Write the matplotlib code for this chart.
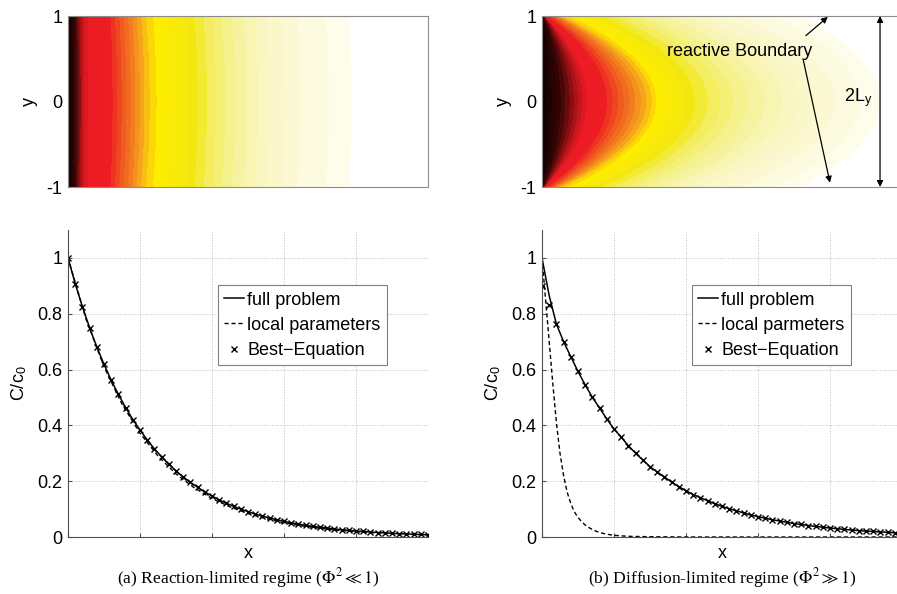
import numpy as np
import matplotlib.pyplot as plt
from matplotlib.colors import LinearSegmentedColormap

plt.rcParams['font.family'] = ['Liberation Sans', 'DejaVu Sans']
plt.rcParams['mathtext.fontset'] = 'stix'

# ---- bottom panels: concentration along the channel ----
x_grid = np.linspace(0, 1, 51)

# (a) reaction-limited
full_a = [1.000, 0.908, 0.825, 0.750, 0.681, 0.619, 0.562, 0.511, 0.464, 0.421,
          0.383, 0.348, 0.316, 0.287, 0.261, 0.237, 0.215, 0.196, 0.178, 0.161,
          0.147, 0.133, 0.121, 0.110, 0.100, 0.091, 0.082, 0.075, 0.068, 0.062,
          0.056, 0.051, 0.046, 0.042, 0.038, 0.035, 0.032, 0.029, 0.026, 0.024,
          0.021, 0.020, 0.018, 0.016, 0.015, 0.013, 0.012, 0.011, 0.010, 0.009,
          0.008]
best_a = full_a
local_a_x = np.linspace(0, 1, 21)
local_a = [1.000, 0.781, 0.610, 0.476, 0.372, 0.290, 0.226, 0.177, 0.138, 0.108,
           0.084, 0.066, 0.051, 0.040, 0.031, 0.024, 0.019, 0.015, 0.012, 0.009,
           0.007]

# (b) diffusion-limited
tail_b = [0.152, 0.141, 0.130, 0.119, 0.110, 0.101, 0.094, 0.086, 0.079, 0.073,
          0.067, 0.062, 0.057, 0.053, 0.048, 0.045, 0.041, 0.038, 0.035, 0.032,
          0.030, 0.027, 0.025, 0.023, 0.021, 0.020, 0.018, 0.017, 0.015, 0.014]
head_b = [0.763, 0.700, 0.646, 0.593, 0.545, 0.500, 0.462, 0.423, 0.387, 0.358,
          0.327, 0.300, 0.276, 0.252, 0.233, 0.215, 0.197, 0.180, 0.166]
full_b = [1.000, 0.865] + head_b + tail_b
best_b = [0.900, 0.830] + head_b + tail_b
local_b_x = [0, 0.01, 0.02, 0.03, 0.04, 0.05, 0.06, 0.07, 0.08, 0.09, 0.10, 0.11,
             0.12, 0.13, 0.14, 0.15, 0.16, 0.18, 0.20, 0.22, 0.25, 0.30, 0.40, 1.0]
local_b = [1.000, 0.850, 0.700, 0.550, 0.410, 0.300, 0.220, 0.160, 0.120, 0.090,
           0.070, 0.055, 0.043, 0.034, 0.027, 0.021, 0.016, 0.010, 0.006, 0.004,
           0.002, 0.001, 0.000, 0.000]

# ---- top panels: x position of each colour level, on the centre line and at the walls ----
heat_levels = [1.0, 0.86, 0.76, 0.66, 0.45, 0.41, 0.30, 0.20, 0.12, 0.06, 0.02, 0.0]
centre_pos_a = [0, 0.026, 0.046, 0.115, 0.22, 0.25, 0.35, 0.45, 0.55, 0.65, 0.78, 0.80]
wall_pos_a = [0, 0.025, 0.044, 0.110, 0.21, 0.24, 0.34, 0.44, 0.54, 0.64, 0.77, 0.79]
centre_pos_b = [0, 0.070, 0.115, 0.170, 0.30, 0.32, 0.41, 0.55, 0.70, 0.82, 0.93, 0.95]
wall_pos_b = [0, 0.002, 0.005, 0.010, 0.05, 0.08, 0.15, 0.28, 0.42, 0.56, 0.71, 0.73]

cmap = LinearSegmentedColormap.from_list('heat', [
    (0.00, (1.00, 1.00, 1.00)),
    (0.02, (0.995, 0.99, 0.93)),
    (0.06, (0.985, 0.975, 0.85)),
    (0.13, (0.975, 0.965, 0.75)),
    (0.18, (0.965, 0.95, 0.62)),
    (0.25, (0.955, 0.93, 0.38)),
    (0.30, (0.95, 0.91, 0.06)),
    (0.41, (1.00, 0.93, 0.00)),
    (0.43, (0.99, 0.85, 0.03)),
    (0.47, (0.97, 0.68, 0.10)),
    (0.53, (0.95, 0.50, 0.12)),
    (0.60, (0.94, 0.30, 0.13)),
    (0.66, (0.93, 0.11, 0.14)),
    (0.74, (0.93, 0.11, 0.14)),
    (0.80, (0.72, 0.08, 0.10)),
    (0.90, (0.22, 0.02, 0.02)),
    (1.00, (0.05, 0.00, 0.00)),
])

W, H = 897, 594
fig = plt.figure(figsize=(W / 100, H / 100), dpi=100)


def px_axes(left, top, right, bottom):
    return fig.add_axes([left / W, 1 - bottom / H, (right - left) / W, (bottom - top) / H])


def heat_panel(ax, centre_pos, wall_pos):
    xg = np.linspace(0, 1, 500)
    yg = np.linspace(-1, 1, 241)
    lv = np.asarray(heat_levels)
    cp = np.asarray(centre_pos)
    wp = np.asarray(wall_pos)
    V = np.empty((yg.size, xg.size))
    for i, y in enumerate(yg):
        # each level sits on a parabola between its centre and wall positions
        pos = cp * (1 - y ** 2) + wp * y ** 2
        V[i] = np.interp(xg, pos, lv)
    ax.contourf(xg, yg, V, levels=np.linspace(0.012, 1.0, 40), cmap=cmap, vmin=0, vmax=1)
    ax.set_xlim(0, 1)
    ax.set_ylim(-1, 1)
    ax.set_xticks([])
    ax.set_yticks([-1, 0, 1])
    ax.set_yticklabels(['-1', '0', '1'])
    ax.tick_params(axis='y', length=0, pad=4, labelsize=13)
    ax.set_ylabel('y', fontsize=13, labelpad=6)
    for s in ax.spines.values():
        s.set_color('0.55')
        s.set_linewidth(0.8)


def curve_panel(ax, full, local_x, local, best, local_label):
    ax.plot(x_grid, full, color='k', lw=1.1, label='full problem')
    ax.plot(local_x, local, color='k', lw=1.0, ls=(0, (3, 2)), label=local_label)
    ax.plot(x_grid, best, ls='none', marker='x', ms=4.5, mew=1.0, color='k',
            label='Best\u2212Equation')
    ax.set_xlim(0, 1)
    ax.set_ylim(0, 1.1)
    ax.set_xticks(np.linspace(0, 1, 6))
    ax.set_xticklabels([])
    ax.set_yticks([0, 0.2, 0.4, 0.6, 0.8, 1.0])
    ax.set_yticklabels(['0', '0.2', '0.4', '0.6', '0.8', '1'])
    ax.tick_params(direction='in', length=3, labelsize=13, pad=4, color='0.3')
    ax.grid(True, ls=':', color='0.75', lw=0.7)
    ax.spines['top'].set_visible(False)
    ax.spines['right'].set_visible(False)
    for s in ['left', 'bottom']:
        ax.spines[s].set_color('0.3')
        ax.spines[s].set_linewidth(0.8)
    ax.set_xlabel('x', fontsize=13, labelpad=2)
    ax.set_ylabel(r'C/c$_\mathregular{0}$', fontsize=13, labelpad=6)
    leg = ax.legend(loc='upper left', bbox_to_anchor=(0.417, 0.82), borderaxespad=0,
                    fontsize=13, handlelength=1.1, handletextpad=0.15,
                    labelspacing=0.45, borderpad=0.35, fancybox=False, framealpha=1)
    leg.get_frame().set_edgecolor('0.5')
    leg.get_frame().set_linewidth(0.8)


# (a) top
ax1 = px_axes(68, 16, 428, 187)
heat_panel(ax1, centre_pos_a, wall_pos_a)

# (b) top
ax2 = px_axes(542, 16, 902, 187)
heat_panel(ax2, centre_pos_b, wall_pos_b)
ax2.spines['right'].set_visible(False)
ax2.text(0.55, 0.58, 'reactive Boundary', fontsize=13, ha='center', va='center')
arrow = dict(arrowstyle='-|>', color='k', lw=0.9, mutation_scale=9, shrinkA=0, shrinkB=0)
ax2.annotate('', xy=(0.794, 0.99), xytext=(0.733, 0.77), arrowprops=arrow)
ax2.annotate('', xy=(0.80, -0.95), xytext=(0.725, 0.50), arrowprops=arrow)
ax2.annotate('', xy=(0.939, 1.0), xytext=(0.939, -1.0),
             arrowprops=dict(arrowstyle='<|-|>', color='k', lw=0.9, mutation_scale=9,
                             shrinkA=0, shrinkB=0))
ax2.text(0.918, 0.05, r'2L$_\mathregular{y}$', fontsize=13, ha='right', va='center')

# (a) bottom
ax3 = px_axes(68, 230, 428, 537)
curve_panel(ax3, full_a, local_a_x, local_a, best_a, 'local parameters')

# (b) bottom
ax4 = px_axes(542, 230, 902, 537)
curve_panel(ax4, full_b, local_b_x, local_b, best_b, 'local parmeters')

fig.text(248 / W, 1 - 578 / H, r'(a) Reaction-limited regime ($\Phi^2 \ll 1$)',
         family='Liberation Serif', fontsize=12.6, ha='center', va='center')
fig.text(722 / W, 1 - 578 / H, r'(b) Diffusion-limited regime ($\Phi^2 \gg 1$)',
         family='Liberation Serif', fontsize=12.6, ha='center', va='center')

fig.savefig('out.png', dpi=100)
